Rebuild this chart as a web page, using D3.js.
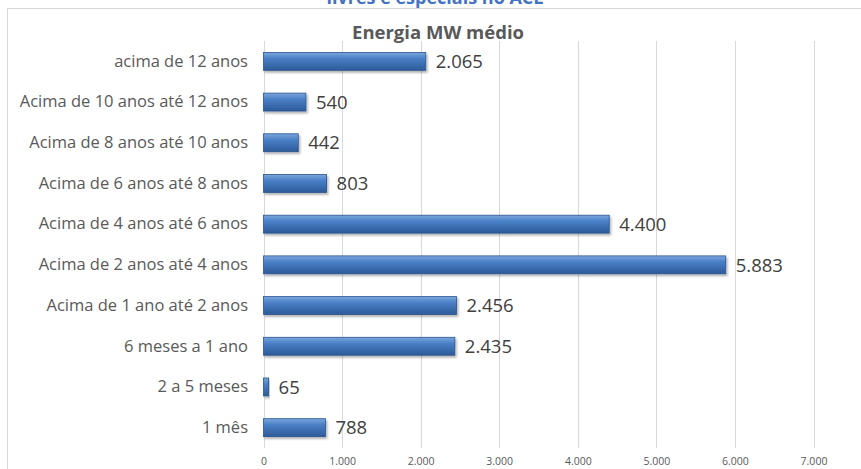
<!DOCTYPE html>
<html><head><meta charset="utf-8">
<script src="https://cdn.jsdelivr.net/npm/d3@7/dist/d3.min.js"></script>
<style>html,body{margin:0;padding:0;background:#fff;}svg{display:block;}</style>
</head><body>
<svg id="c" width="861" height="469"></svg>
<script>
const categories = ["acima de 12 anos","Acima de 10 anos até 12 anos","Acima de 8 anos até 10 anos","Acima de 6 anos até 8 anos","Acima de 4 anos até 6 anos","Acima de 2 anos até 4 anos","Acima de 1 ano até 2 anos","6 meses a 1 ano","2 a 5 meses","1 mês"];
const values = [2065,540,442,803,4400,5883,2456,2435,65,788];
const xTicks = [0,1000,2000,3000,4000,5000,6000,7000];
const chartTitle = "Energia MW médio";
const topTitle = "livres e especiais no ACL";

const svg = d3.select("#c");
const font = "'Open Sans', sans-serif";
const loc = d3.formatLocale({decimal:",", thousands:".", grouping:[3], currency:["",""]});
const fmt = loc.format(",d");

const x = d3.scaleLinear().domain([0,7000]).range([263.5,813.5]);
const y = d3.scaleBand().domain(categories).range([41,448]).paddingInner(0.56).paddingOuter(0.28);

const defs = svg.append("defs");
const g = defs.append("linearGradient").attr("id","bg").attr("x1",0).attr("y1",0).attr("x2",0).attr("y2",1);
g.append("stop").attr("offset","0%").attr("stop-color","#7aa6dc");
g.append("stop").attr("offset","35%").attr("stop-color","#4a7fc6");
g.append("stop").attr("offset","100%").attr("stop-color","#2c5a98");
const f = defs.append("filter").attr("id","sh").attr("x","-5%").attr("y","-20%").attr("width","115%").attr("height","160%");
f.append("feDropShadow").attr("dx",1.5).attr("dy",2).attr("stdDeviation",1.2).attr("flood-color","#000").attr("flood-opacity",0.3);

// frame
svg.append("line").attr("x1",7).attr("x2",861).attr("y1",8.5).attr("y2",8.5).attr("stroke","#d9d9d9");
svg.append("line").attr("x1",7.5).attr("x2",7.5).attr("y1",8).attr("y2",469).attr("stroke","#d9d9d9");

// top cut title
svg.append("text").attr("x",435).attr("y",4).attr("text-anchor","middle")
  .attr("font-family",font).attr("font-weight","bold").attr("font-size",18).attr("fill","#4472c4").text(topTitle);

// chart title
svg.append("text").attr("x",438).attr("y",39).attr("text-anchor","middle")
  .attr("font-family",font).attr("font-weight","bold").attr("font-size",18.5).attr("fill","#595959").text(chartTitle);

// gridlines
svg.append("g").selectAll("line").data(xTicks).join("line")
  .attr("x1",d=>Math.round(x(d))+0.5).attr("x2",d=>Math.round(x(d))+0.5)
  .attr("y1",41).attr("y2",448).attr("stroke","#d9d9d9");

// x axis
const xa = svg.append("g").attr("transform","translate(0,450)")
  .call(d3.axisBottom(x).tickValues(xTicks).tickFormat(fmt).tickSize(0).tickPadding(8));
xa.select(".domain").remove();
xa.selectAll("text").attr("font-family",font).attr("font-size",10.5).attr("fill","#595959");

// y labels
const ya = svg.append("g").attr("transform","translate(256,0)")
  .call(d3.axisLeft(y).tickSize(0).tickPadding(8));
ya.select(".domain").remove();
ya.selectAll("text").attr("font-family",font).attr("font-size",16.5).attr("fill","#595959");

// bars
svg.append("g").selectAll("rect").data(values).join("rect")
  .attr("x",x(0)).attr("y",(d,i)=>y(categories[i]))
  .attr("width",d=>x(d)-x(0)).attr("height",y.bandwidth())
  .attr("fill","url(#bg)").attr("stroke","#2a558f").attr("stroke-width",0.8)
  .attr("filter","url(#sh)");

// value labels
svg.append("g").selectAll("text").data(values).join("text")
  .attr("x",d=>x(d)+10).attr("y",(d,i)=>y(categories[i])+y.bandwidth()/2)
  .attr("dy","0.36em").attr("font-family",font).attr("font-size",18.5).attr("fill","#404040")
  .text(d=>fmt(d));
</script>
</body></html>
